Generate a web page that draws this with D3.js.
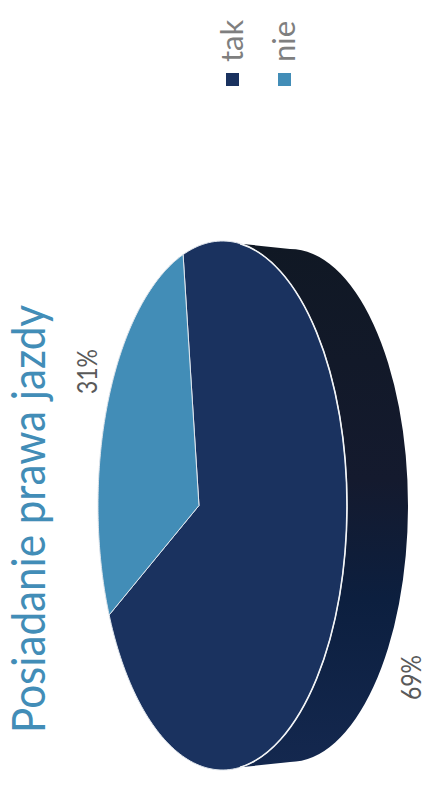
<!DOCTYPE html>
<html><head><meta charset="utf-8">
<script src="https://cdn.jsdelivr.net/npm/d3@7"></script>
<style>html,body{margin:0;padding:0;background:#fff}svg{display:block}</style>
</head><body><svg id="c" width="426" height="790"></svg>
<script>
const categories = ["tak", "nie"];
const values = [69, 31];
const valueLabels = ["69%", "31%"];
const colors = ["#1a325f", "#428db7"];
const chartTitle = "Posiadanie prawa jazdy";

const FONT = "Lato, 'Open Sans', sans-serif";
const svg = d3.select("#c");

// Perspective: front face ellipse, with the pie centre pushed left of the ellipse centre
const face = {cx: 222.5, cy: 505.5, rx: 124.5, ry: 264.5};
const back = {cx: 290, cy: 505.5, rx: 118, ry: 256.5};
const u0 = -0.189;
const xS = d3.scaleLinear().domain([-1, 1]).range([face.cx - face.rx, face.cx + face.rx]);
const yS = d3.scaleLinear().domain([-1, 1]).range([face.cy - face.ry, face.cy + face.ry]);
function project(a, r) {
  const p = r * Math.sin(a), q = -r * Math.cos(a);
  const d = 1 + u0 * p;
  return [xS((p + u0) / d), yS(q * Math.sqrt(1 - u0 * u0) / d)];
}

const defs = svg.append("defs");
const grad = defs.append("linearGradient").attr("id", "wall")
  .attr("x1", 0).attr("y1", 0).attr("x2", 0).attr("y2", 1);
[[0, "#101824"], [0.45, "#141a2e"], [0.68, "#0c1f3f"], [1, "#14284f"]].forEach(s =>
  grad.append("stop").attr("offset", s[0]).attr("stop-color", s[1]));

// extruded wall
const rimX = 240;
const rimDy = face.ry * Math.sqrt(1 - Math.pow((rimX - face.cx) / face.rx, 2));
svg.append("path")
  .attr("d", `M${rimX},${face.cy - rimDy} L${back.cx},${back.cy - back.ry} A${back.rx},${back.ry} 0 0 1 ${back.cx},${back.cy + back.ry} L${rimX},${face.cy + rimDy} Z`)
  .attr("fill", "url(#wall)");

// pie
const pie = d3.pie().sort(null).startAngle(-7.8 * Math.PI / 180).endAngle((360 - 7.8) * Math.PI / 180);
const arcs = pie(values);
const line = d3.line();
svg.append("g").selectAll("path").data(arcs).join("path")
  .attr("d", d => {
    const pts = [project(0, 0)];
    d3.range(0, 181).forEach(i => {
      pts.push(project(d.startAngle + (d.endAngle - d.startAngle) * i / 180, 1));
    });
    return line(pts) + "Z";
  })
  .attr("fill", (d, i) => colors[i])
  .attr("stroke", "#dfe5ec").attr("stroke-width", 1).attr("stroke-linejoin", "round");

// brighter rim against the dark wall
svg.append("path")
  .attr("d", `M${rimX},${face.cy - rimDy} A${face.rx},${face.ry} 0 0 1 ${rimX},${face.cy + rimDy}`)
  .attr("fill", "none").attr("stroke", "#f2f4f6").attr("stroke-width", 1.6);

// title
svg.append("text").attr("transform", "translate(45,733) rotate(-90)")
  .attr("font-family", FONT).attr("font-size", 46).attr("fill", "#428db7")
  .attr("textLength", 428).attr("lengthAdjust", "spacingAndGlyphs")
  .text(chartTitle);

// legend
const legendX = d3.scalePoint().domain(categories).range([226, 278]);
const lg = svg.append("g").selectAll("g").data(categories).join("g");
lg.append("rect").attr("x", d => legendX(d)).attr("y", 73).attr("width", 13).attr("height", 13)
  .attr("fill", (d, i) => colors[i]);
lg.append("text").attr("transform", d => `translate(${legendX(d) + 17},62) rotate(-90)`)
  .attr("font-family", FONT).attr("font-size", 31).attr("fill", "#7f7f7f").text(d => d);

// value labels
const labelPos = [[421, 700], [97, 394]];
svg.append("g").selectAll("text").data(valueLabels).join("text")
  .attr("transform", (d, i) => `translate(${labelPos[i][0]},${labelPos[i][1]}) rotate(-90)`)
  .attr("font-family", FONT).attr("font-size", 27).attr("fill", "#595959")
  .attr("textLength", 45).attr("lengthAdjust", "spacingAndGlyphs").text(d => d);
</script></body></html>
